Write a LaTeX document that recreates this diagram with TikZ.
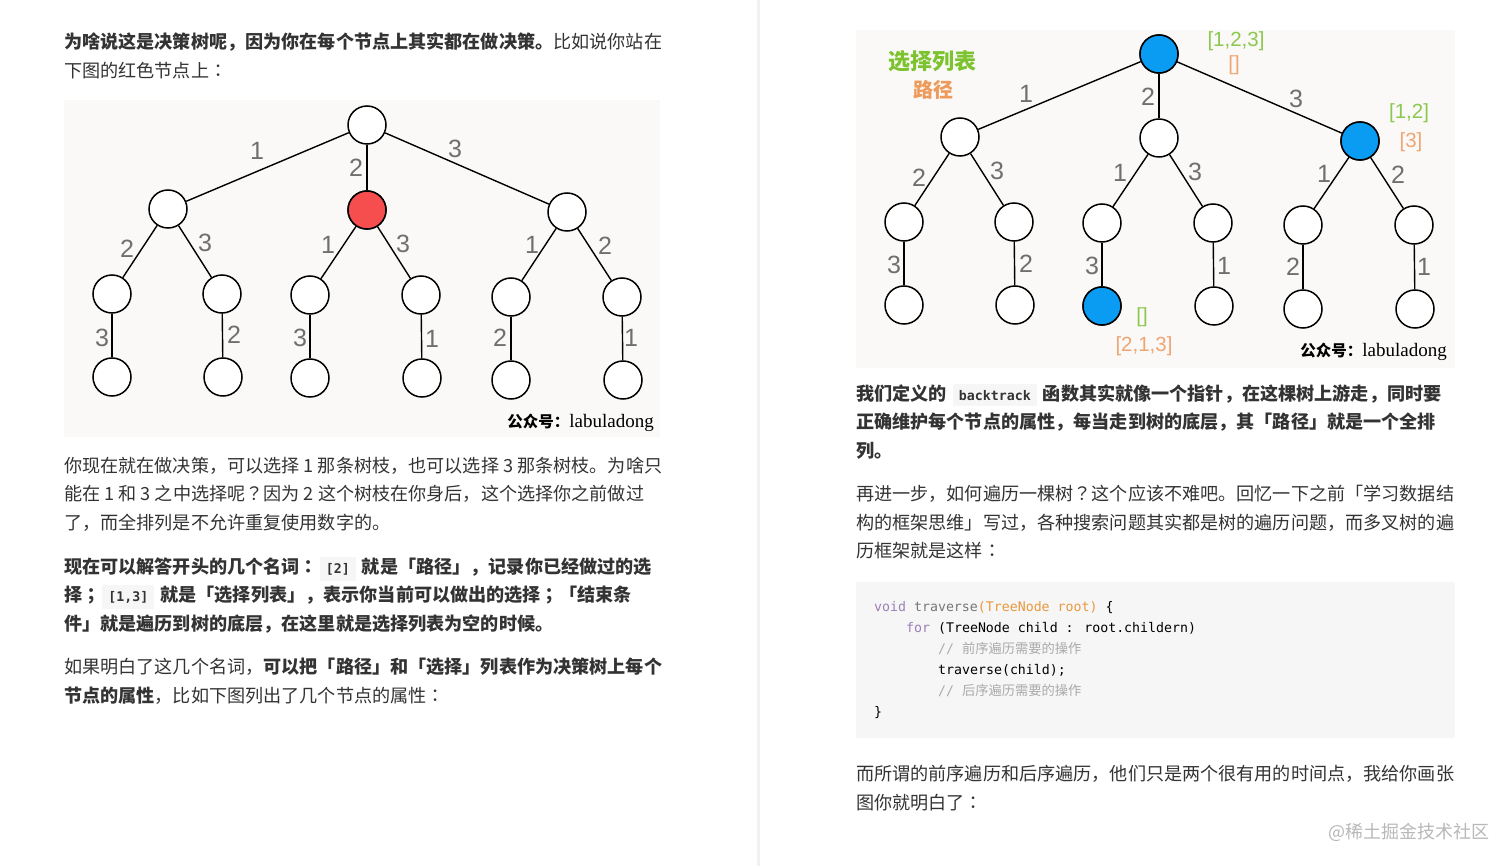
\documentclass[tikz,border=0pt]{standalone}
\usepackage{fontspec}
\usepackage{xcolor}
\setmainfont{Noto Sans CJK SC}
\newfontfamily\cjk{Noto Sans CJK SC}
\newfontfamily\cjkmid{Noto Sans CJK TC}
\newfontfamily\codefont{DejaVu Sans Mono}
\newfontfamily\latinfont{Liberation Serif}
\newfontfamily\labelfont{Liberation Sans}
\definecolor{bodytext}{HTML}{333333}
\definecolor{imgbg}{HTML}{FAF9F7}
\definecolor{chipbg}{HTML}{F6F6F6}
\definecolor{rulegray}{HTML}{EFF1F5}
\definecolor{digitgray}{HTML}{6F6F6F}
\definecolor{pickred}{HTML}{F64E4E}
\definecolor{pickblue}{HTML}{0A9CF2}
\definecolor{choicegreen}{HTML}{8CC850}
\definecolor{pathorange}{HTML}{EFA574}
\definecolor{titlegreen}{HTML}{7CC32F}
\definecolor{titleorange}{HTML}{EE9A5A}
\definecolor{kwpurple}{HTML}{9A7FB5}
\definecolor{argorange}{HTML}{E9983F}
\definecolor{fngray}{HTML}{777777}
\definecolor{commentgray}{HTML}{AAAAAA}
\newcommand{\codechip}[1]{{\setlength{\fboxsep}{6pt}\hspace{2pt}\colorbox{chipbg}{\codefont\bfseries\fontsize{13.25}{16}\selectfont #1}\hspace{2pt}}}
\newcommand{\signoff}{{\cjk\bfseries\fontsize{15.5}{18}\selectfont 公众号：}{\latinfont\fontsize{19}{20}\selectfont labuladong}}
\newcommand{\midcolon}{{\cjkmid ：}}
\newcommand{\midsemi}{{\cjkmid ；}}
\newcommand{\midquery}{{\cjkmid ？}}
\tikzset{
  para/.style={anchor=base west, inner sep=0pt, text=bodytext, font=\fontsize{18.12}{22}\selectfont},
  codeline/.style={anchor=base west, inner sep=0pt, font=\codefont\fontsize{13.25}{16}\selectfont},
  tree/.style={circle, draw=black, line width=1.5pt, fill=white, minimum size=38pt, inner sep=0pt},
  branch/.style={draw=black, line width=1.4pt},
  digit/.style={inner sep=0pt, text=digitgray, font=\labelfont\fontsize{25}{26}\selectfont},
  attr/.style={inner sep=0pt, font=\labelfont\fontsize{20.5}{22}\selectfont},
}

\begin{document}
\begin{tikzpicture}[x=1pt, y=-1pt]
  \useasboundingbox (0,0) rectangle (1512,866);

  % Page and column rule
  \fill[white] (0,0) rectangle (1512,866);
  \draw[line width=3pt, rulegray] (758.5,0) -- (758.5,866);

  % Image backgrounds
  \fill[imgbg] (64,100) rectangle (660,437);
  \fill[imgbg] (856,30) rectangle (1455,368);

  % Left column text
  \node[para] (t1) at (64,49) {\textbf{为啥说这是决策树呢，因为你在每个节点上其实都在做决策。}比如说你站在};
  \node[para] (t2) at (64,78) {下图的红色节点上\midcolon};
  \node[para] (t3) at (64,472) {你现在就在做决策，可以选择 1 那条树枝，也可以选择 3 那条树枝。为啥只};
  \node[para] (t4) at (64,500) {能在 1 和 3 之中选择呢\midquery 因为 2 这个树枝在你身后，这个选择你之前做过};
  \node[para] (t5) at (64,529) {了，而全排列是不允许重复使用数字的。};
  \node[para] (t6) at (64,573) {\textbf{现在可以解答开头的几个名词\midcolon\codechip{[2]} 就是「路径」，记录你已经做过的选}};
  \node[para] (t7) at (64,601) {\textbf{择\midsemi\codechip{[1,3]} 就是「选择列表」，表示你当前可以做出的选择\midsemi「结束条}};
  \node[para] (t8) at (64,630) {\textbf{件」就是遍历到树的底层，在这里就是选择列表为空的时候。}};
  \node[para] (t9) at (64,673) {如果明白了这几个名词，\textbf{可以把「路径」和「选择」列表作为决策树上每个}};
  \node[para] (t10) at (64,702) {\textbf{节点的属性}，比如下图列出了几个节点的属性\midcolon};

  % Left tree
  \foreach \name/\x/\y in {lr/367/125, la/168/209, lb/367/210, lc/567/212,
      laa/112/294, lab/222/294, lba/310/295, lbb/421/295, lca/511/297, lcb/622/297,
      laaa/112/377, laba/223/377, lbaa/310/378, lbba/422/378, lcaa/511/380, lcba/623/380}
    \node[tree] (\name) at (\x,\y) {};
  \node[tree, fill=pickred] at (lb) {};
  \foreach \a/\b in {lr/la, lr/lb, lr/lc, la/laa, la/lab, lb/lba, lb/lbb, lc/lca, lc/lcb,
      laa/laaa, lab/laba, lba/lbaa, lbb/lbba, lca/lcaa, lcb/lcba}
    \draw[branch] (\a) -- (\b);
  \foreach \d/\x/\y [count=\i] in {1/257/151, 2/356/168, 3/455/149, 2/127/249, 3/205/243,
      1/328/245, 3/403/244, 1/532/245, 2/605/246, 3/102/338, 2/234/335, 3/300/338,
      1/432/339, 2/500/338, 1/631/338}
    \node[digit] (ld\i) at (\x,\y) {\d};
  \node[anchor=east, inner sep=0pt] (lsign) at (654,423) {\signoff};

  % Right tree
  \foreach \name/\x/\y in {rr/1159/54, ra/960/137, rb/1159/138, rc/1360/141,
      raa/904/222, rab/1014/222, rba/1102/223, rbb/1213/223, rca/1303/225, rcb/1414/225,
      raaa/904/305, raba/1015/305, rbaa/1102/306, rbba/1214/306, rcaa/1303/309, rcba/1415/309}
    \node[tree] (\name) at (\x,\y) {};
  \foreach \name in {rr, rc, rbaa}
    \node[tree, fill=pickblue] at (\name) {};
  \foreach \a/\b in {rr/ra, rr/rb, rr/rc, ra/raa, ra/rab, rb/rba, rb/rbb, rc/rca, rc/rcb,
      raa/raaa, rab/raba, rba/rbaa, rbb/rbba, rca/rcaa, rcb/rcba}
    \draw[branch] (\a) -- (\b);
  \foreach \d/\x/\y [count=\i] in {1/1026/94, 2/1148/97, 3/1296/99, 2/919/178, 3/997/171,
      1/1120/173, 3/1195/172, 1/1324/174, 2/1398/175, 3/894/265, 2/1026/264, 3/1092/266,
      1/1224/266, 2/1293/267, 1/1424/267}
    \node[digit] (rd\i) at (\x,\y) {\d};

  % Attributes
  \node[inner sep=0pt, text=titlegreen, font=\bfseries\fontsize{22}{24}\selectfont] (choices) at (932,61) {选择列表};
  \node[inner sep=0pt, text=titleorange, font=\bfseries\fontsize{20}{24}\selectfont] (paths) at (933,90) {路径};
  \node[attr, text=choicegreen] (rrc) at (1236,41) {[1,2,3]};
  \node[attr, text=pathorange] (rrp) at (1234,65) {[]};
  \node[attr, text=choicegreen] (rcc) at (1409,113) {[1,2]};
  \node[attr, text=pathorange] (rcp) at (1411,142) {[3]};
  \node[attr, text=choicegreen] (rbc) at (1142,317) {[]};
  \node[attr, text=pathorange] (rbp) at (1144,346) {[2,1,3]};
  \node[anchor=east, inner sep=0pt] (rsign) at (1447,352) {\signoff};

  % Right column text
  \node[para] (u1) at (856,400) {\textbf{我们定义的 \codechip{backtrack} 函数其实就像一个指针，在这棵树上游走，同时要}};
  \node[para] (u2) at (856,428) {\textbf{正确维护每个节点的属性，每当走到树的底层，其「路径」就是一个全排}};
  \node[para] (u3) at (856,457) {\textbf{列。}};
  \node[para] (u4) at (856,500) {再进一步，如何遍历一棵树\midquery 这个应该不难吧。回忆一下之前「学习数据结};
  \node[para] (u5) at (856,529) {构的框架思维」写过，各种搜索问题其实都是树的遍历问题，而多叉树的遍};
  \node[para] (u6) at (856,557) {历框架就是这样\midcolon};

  % Code block
  \fill[chipbg] (856,582) rectangle (1455,738);
  \node[codeline] (c1) at (874,611) {\textcolor{kwpurple}{void} \textcolor{fngray}{traverse}\textcolor{argorange}{(TreeNode root)} \textcolor{black}{\{}};
  \node[codeline] (c2) at (906,632) {\textcolor{kwpurple}{for} \textcolor{black}{(TreeNode child : root.childern)}};
  \node[codeline, text=commentgray] (c3) at (938,653) {// {\cjk 前序遍历需要的操作}};
  \node[codeline] (c4) at (938,674) {\textcolor{black}{traverse(child);}};
  \node[codeline, text=commentgray] (c5) at (938,695) {// {\cjk 后序遍历需要的操作}};
  \node[codeline] (c6) at (874,716) {\textcolor{black}{\}}};

  \node[para] (u7) at (856,780) {而所谓的前序遍历和后序遍历，他们只是两个很有用的时间点，我给你画张};
  \node[para] (u8) at (856,809) {图你就明白了\midcolon};

  % Watermark
  \node[anchor=base east, inner sep=0pt, text=black!28, font=\fontsize{18}{22}\selectfont] (mark) at (1490,838) {@稀土掘金技术社区};
\end{tikzpicture}
\end{document}
